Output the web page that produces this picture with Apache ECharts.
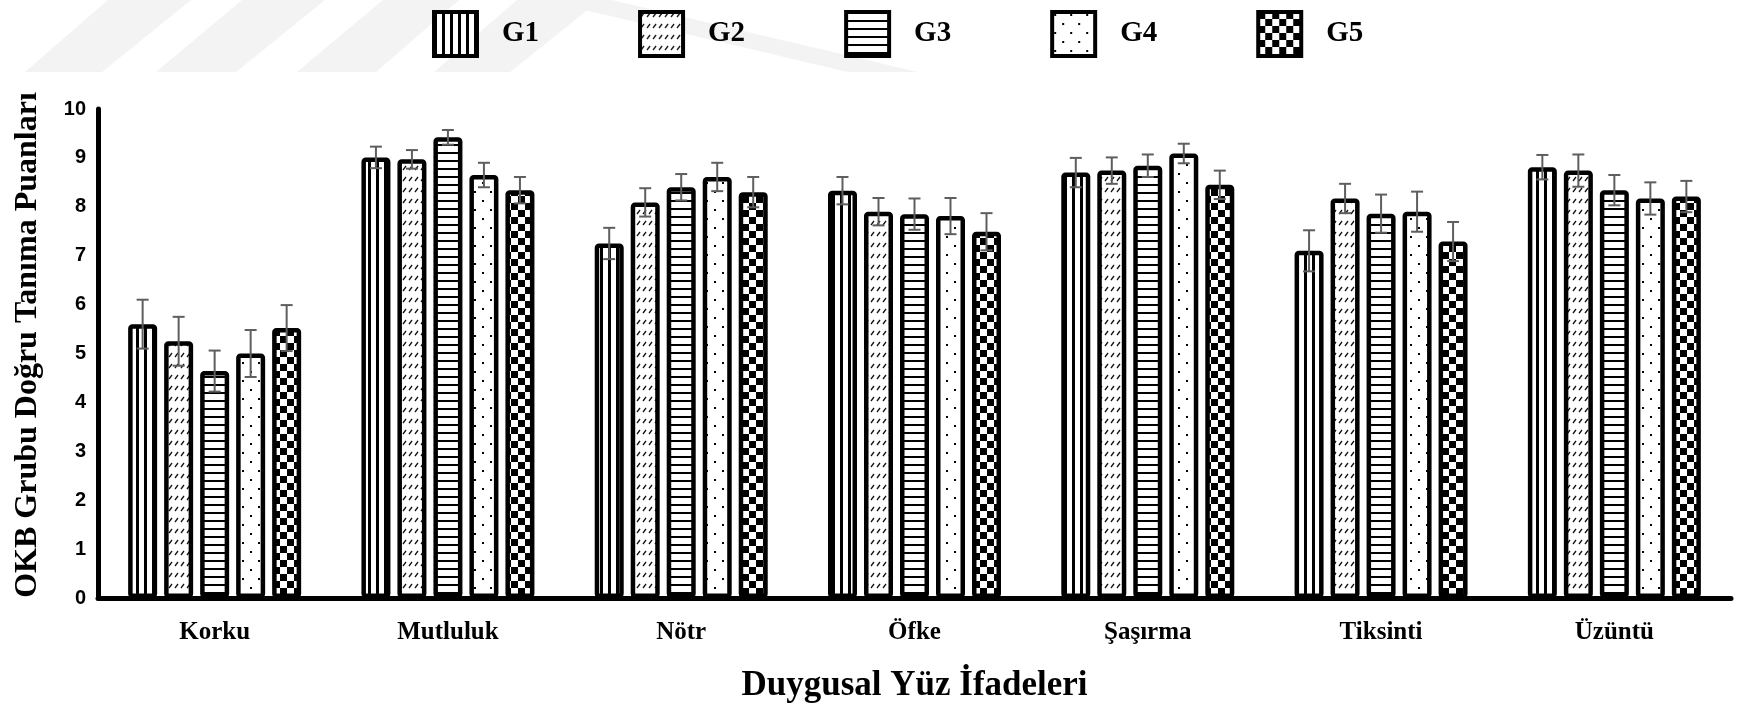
<!DOCTYPE html>
<html>
<head>
<meta charset="utf-8">
<script src="https://cdn.jsdelivr.net/npm/echarts@6/dist/echarts.min.js"></script>
<style>
html,body{margin:0;padding:0;background:#fff;}
#chart{width:1746px;height:708px;}
</style>
</head>
<body>
<div id="chart"></div>
<script>
// ---- data ----
const categories = ['Korku', 'Mutluluk', 'Nötr', 'Öfke', 'Şaşırma', 'Tiksinti', 'Üzüntü'];
const groupNames = ['G1', 'G2', 'G3', 'G4', 'G5'];
const g1 = [5.60, 9.01, 7.25, 8.33, 8.70, 7.10, 8.81];
const g2 = [5.25, 8.97, 8.09, 7.90, 8.74, 8.17, 8.74];
const g3 = [4.64, 9.42, 8.40, 7.85, 8.84, 7.86, 8.34];
const g4 = [5.00, 8.65, 8.61, 7.81, 9.09, 7.90, 8.17];
const g5 = [5.52, 8.34, 8.30, 7.49, 8.45, 7.29, 8.21];
const g1Err = [0.50, 0.22, 0.32, 0.28, 0.30, 0.42, 0.25];
const g2Err = [0.50, 0.19, 0.29, 0.28, 0.27, 0.30, 0.33];
const g3Err = [0.42, 0.15, 0.27, 0.32, 0.23, 0.39, 0.31];
const g4Err = [0.48, 0.25, 0.29, 0.37, 0.20, 0.41, 0.33];
const g5Err = [0.47, 0.27, 0.31, 0.38, 0.29, 0.40, 0.32];
const yTicks = [0, 1, 2, 3, 4, 5, 6, 7, 8, 9, 10];
const xTitle = 'Duygusal Yüz İfadeleri';
const yTitle = 'OKB Grubu Doğru Tanıma Puanları';

const values = [g1, g2, g3, g4, g5];
const errors = [g1Err, g2Err, g3Err, g4Err, g5Err];

// ---- layout constants ----
const BAR_W = 29;
const BAR_GAP = 0.2414;
const STRIDE = BAR_W * (1 + BAR_GAP);
const CAP = 6;

// ---- patterns ----
function mk(w, h, draw) {
  const c = document.createElement('canvas');
  c.width = w; c.height = h;
  const ctx = c.getContext('2d');
  ctx.fillStyle = '#fff';
  ctx.fillRect(0, 0, w, h);
  draw(ctx);
  return { image: c, repeat: 'repeat' };
}
const patterns = [
  mk(8, 8, ctx => { ctx.fillStyle = '#000'; ctx.fillRect(0, 0, 3, 8); }),
  mk(6, 11, ctx => {
    ctx.strokeStyle = '#111'; ctx.lineWidth = 1.3;
    ctx.beginPath(); ctx.moveTo(1, 5); ctx.lineTo(4, 1); ctx.stroke();
  }),
  mk(8, 8, ctx => { ctx.fillStyle = '#000'; ctx.fillRect(0, 0, 8, 2); }),
  mk(16, 18, ctx => {
    ctx.fillStyle = '#000';
    ctx.fillRect(2, 2, 2, 2);
    ctx.fillRect(10, 11, 2, 2);
  }),
  mk(14, 14, ctx => {
    ctx.fillStyle = '#000';
    ctx.fillRect(0, 0, 7, 7);
    ctx.fillRect(7, 7, 7, 7);
  })
];

const serif = "'Liberation Serif', 'Times New Roman', serif";
const sans = "'Liberation Sans', Arial, sans-serif";

const barSeries = groupNames.map((name, i) => ({
  name: name,
  type: 'bar',
  barWidth: BAR_W,
  barGap: (BAR_GAP * 100) + '%',
  data: values[i],
  itemStyle: {
    color: patterns[i],
    borderColor: '#000',
    borderWidth: 4.5,
    borderRadius: 2
  },
  emphasis: { disabled: true },
  z: 2
}));

const errData = [];
groupNames.forEach((n, g) => {
  categories.forEach((c, ci) => {
    errData.push([ci, values[g][ci], errors[g][ci], g]);
  });
});

const errSeries = {
  type: 'custom',
  name: 'err',
  encode: { x: 0, y: 1 },
  z: 10,
  silent: true,
  data: errData,
  renderItem: function (params, api) {
    const ci = api.value(0), v = api.value(1), e = api.value(2), g = api.value(3);
    const top = api.coord([ci, v + e]);
    const bot = api.coord([ci, v - e]);
    const x = top[0] + (g - 2) * STRIDE;
    const st = { stroke: '#5e5e5e', lineWidth: 2 };
    return {
      type: 'group',
      children: [
        { type: 'line', shape: { x1: x, y1: top[1], x2: x, y2: bot[1] }, style: st },
        { type: 'line', shape: { x1: x - CAP, y1: top[1], x2: x + CAP, y2: top[1] }, style: st },
        { type: 'line', shape: { x1: x - CAP, y1: bot[1], x2: x + CAP, y2: bot[1] }, style: st }
      ]
    };
  }
};

// faint background watermark stripes (decoration)
const wmColor = '#f3f3f3';
const wm = [
  [[25, 72], [102, 72], [191, 0], [108, 0]],
  [[156, 72], [236, 72], [325, 0], [242, 0]],
  [[297, 72], [376, 72], [459, 0], [383, 0]],
  [[434, 72], [510, 72], [600, 0], [517, 0]],
  [[542, 0], [612, 0], [918, 72], [848, 72]]
].map(pts => ({ type: 'polygon', shape: { points: pts }, style: { fill: wmColor }, z: -10, silent: true }));

const yTitleText = {
  type: 'text',
  x: 28, y: 345,
  rotation: Math.PI / 2,
  style: {
    text: yTitle,
    fontFamily: serif, fontWeight: 'bold', fontSize: 32, fill: '#000',
    align: 'center', verticalAlign: 'middle'
  },
  silent: true
};

const chart = echarts.init(document.getElementById('chart'), null, { renderer: 'canvas' });
chart.setOption({
  backgroundColor: '#fff',
  animation: false,
  graphic: wm.concat([yTitleText]),
  legend: {
    data: groupNames,
    left: 427,
    top: 5,
    icon: 'rect',
    itemWidth: 43,
    itemHeight: 44,
    itemGap: 99,
    itemStyle: { borderColor: '#000', borderWidth: 4 },
    textStyle: {
      fontFamily: serif, fontWeight: 'bold', fontSize: 29, color: '#000',
      padding: [0, 0, 0, 20]
    },
    selectedMode: false
  },
  grid: { left: 98, right: 15, top: 109, bottom: 107, containLabel: false },
  xAxis: {
    type: 'category',
    data: categories,
    axisLine: { show: true, lineStyle: { color: '#000', width: 5 } },
    axisTick: { show: false },
    axisLabel: {
      margin: 22,
      fontFamily: serif, fontWeight: 'bold', fontSize: 25, color: '#000'
    },
    name: xTitle,
    nameLocation: 'middle',
    nameGap: 70,
    nameTextStyle: { fontFamily: serif, fontWeight: 'bold', fontSize: 35, color: '#000' }
  },
  yAxis: {
    type: 'value',
    min: yTicks[0],
    max: yTicks[yTicks.length - 1],
    interval: 1,
    axisLine: { show: true, lineStyle: { color: '#000', width: 5 } },
    axisTick: { show: false },
    splitLine: { show: false },
    axisLabel: {
      margin: 12,
      fontFamily: sans, fontWeight: 'bold', fontSize: 20, color: '#000'
    }
  },
  series: barSeries.concat([errSeries])
});
</script>
</body>
</html>
